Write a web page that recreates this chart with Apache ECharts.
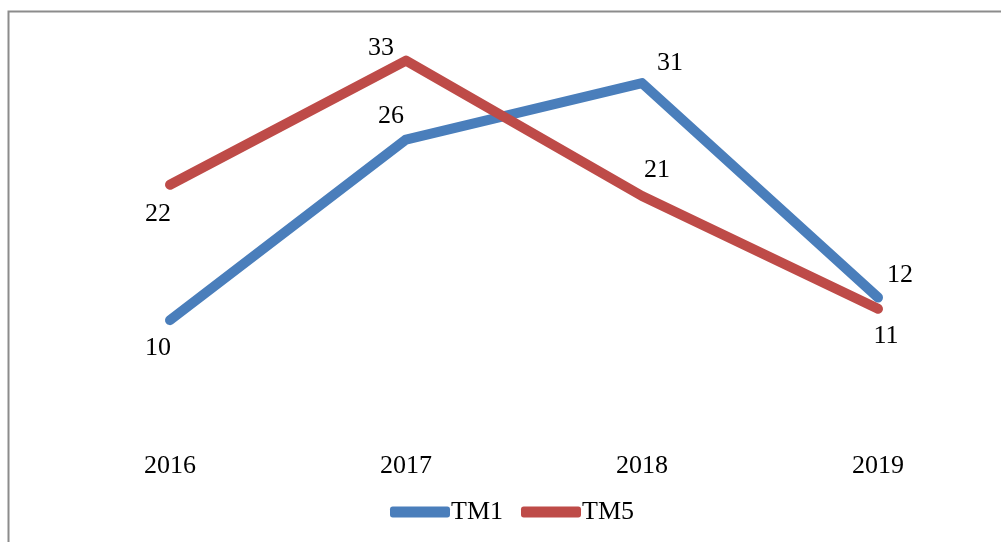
<!DOCTYPE html>
<html>
<head>
<meta charset="utf-8">
<script src="https://cdn.jsdelivr.net/npm/echarts@6/dist/echarts.min.js"></script>
<style>
  html, body { margin: 0; padding: 0; background: #fff; }
  #main { width: 1001px; height: 542px; }
</style>
</head>
<body>
<div id="main"></div>
<script>
var years = ['2016', '2017', '2018', '2019'];
var tm1 = [10, 26, 31, 12];
var tm5 = [22, 33, 21, 11];

// label offsets (px) relative to each point
var tm1Offsets = [[-12, 28], [-15, -23], [28, -20], [22, -22]];
var tm5Offsets = [[-12, 29], [-25, -12], [15, -26], [8, 27]];

var serif = '"Liberation Serif", "Times New Roman", serif';

function withLabels(values, offsets) {
    return values.map(function (v, i) {
        return { value: v, label: { offset: offsets[i] } };
    });
}

var dom = document.getElementById('main');
var myChart = echarts.init(dom);

var option = {
    animation: false,
    textStyle: { fontFamily: serif },
    graphic: [{
        type: 'rect',
        shape: { x: 8.5, y: 11.5, width: 1000, height: 600 },
        style: { fill: 'none', stroke: '#8c8c8c', lineWidth: 2 },
        silent: true
    }],
    grid: { left: 52, right: 5, top: 38, bottom: 109 },
    legend: {
        bottom: 12,
        left: 385,
        itemWidth: 60,
        itemHeight: 11,
        itemGap: 18,
        icon: 'roundRect',
        textStyle: { fontFamily: serif, fontSize: 26, color: '#000', padding: [0, 0, 0, -4] },
        data: ['TM1', 'TM5']
    },
    xAxis: {
        type: 'category',
        data: years,
        boundaryGap: true,
        axisLine: { show: false },
        axisTick: { show: false },
        axisLabel: { margin: 20, fontFamily: serif, fontSize: 26, color: '#000' }
    },
    yAxis: {
        type: 'value',
        min: 0,
        max: 35,
        show: false,
        splitLine: { show: false }
    },
    series: [{
        name: 'TM1',
        type: 'line',
        data: withLabels(tm1, tm1Offsets),
        showSymbol: true,
        symbol: 'circle',
        symbolSize: 0.1,
        color: '#4a7ebb',
        lineStyle: { width: 10, cap: 'round', join: 'round', color: '#4a7ebb' },
        label: {
            show: true,
            position: 'inside',
            fontFamily: serif,
            fontSize: 26,
            color: '#000'
        }
    }, {
        name: 'TM5',
        type: 'line',
        data: withLabels(tm5, tm5Offsets),
        showSymbol: true,
        symbol: 'circle',
        symbolSize: 0.1,
        color: '#be4b48',
        lineStyle: { width: 10, cap: 'round', join: 'round', color: '#be4b48' },
        label: {
            show: true,
            position: 'inside',
            fontFamily: serif,
            fontSize: 26,
            color: '#000'
        }
    }]
};

myChart.setOption(option);
</script>
</body>
</html>
